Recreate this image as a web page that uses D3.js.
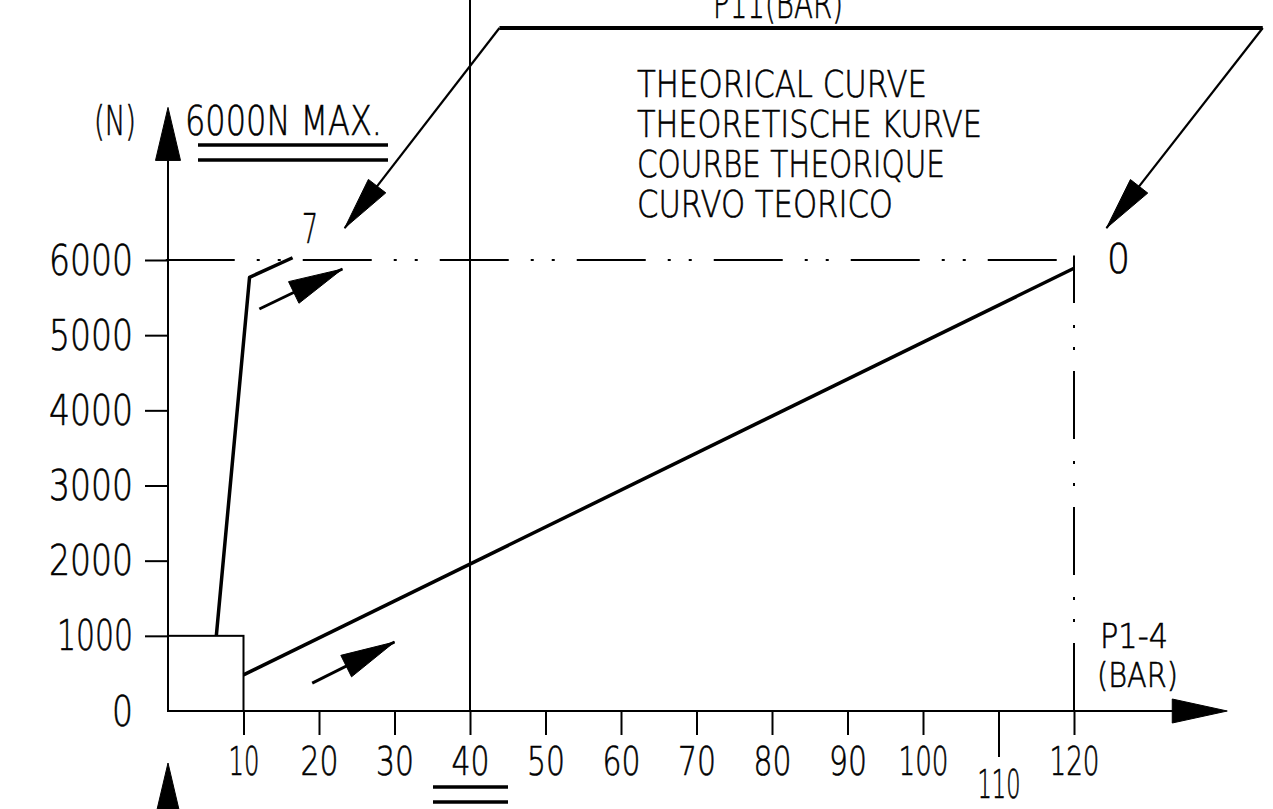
<!DOCTYPE html>
<html>
<head>
<meta charset="utf-8">
<script src="https://cdn.jsdelivr.net/npm/d3@7"></script>
<style>
  html, body { margin: 0; padding: 0; background: #fff; }
  svg text { font-family: "DejaVu Sans", "DejaVu Sans Condensed", "Liberation Sans", sans-serif; font-weight: 200; fill: #000; stroke: #000; stroke-width: 0.6px; }
</style>
</head>
<body>
<svg id="chart" width="1273" height="809"></svg>
<script>
// ---------- data ----------
const xTicks = [10, 20, 30, 40, 50, 60, 70, 80, 90, 100, 110, 120];
const yTicks = [0, 1000, 2000, 3000, 4000, 5000, 6000];
const yLabels = ["0", "1000", "2000", "3000", "4000", "5000", "6000"];
// P11 curve (steep) and P1-4 curve (theoretical, linear)
const curveP11 = [[6.4, 1000], [10.8, 5770], [16.5, 6030]];
const curveP14 = [[10, 480], [120, 5890]];
const boxX = [0, 10];
const boxY = [0, 1000];
const maxForce = 6000;        // 6000N MAX line
const refPressure = 40;        // vertical reference at 40 bar
const endPressure = 120;       // vertical dash-dot at 120 bar
const titleLines = ["THEORICAL CURVE", "THEORETISCHE KURVE", "COURBE THEORIQUE", "CURVO TEORICO"];
// annotation arrows (from -> to), in data units
const flowArrows = [[[12.1, 5348], [23.1, 5880]], [[19.1, 372], [30.0, 918]]];
const leaderTop = [[43.9, 9086], [145.0, 9086]];
const leaders = [[[43.9, 9086], [23.4, 6425]], [[145.0, 9086], [124.3, 6425]]];

// ---------- scales ----------
const svg = d3.select("#chart");
const x = d3.scaleLinear().domain([0, 120]).range([168, 1074]);
const y = d3.scaleLinear().domain([0, 6000]).range([711, 260]);
const P = d => [x(d[0]), y(d[1])];

function arrowHead(g, from, to, len, hw) {
  const [x1, y1] = from, [x2, y2] = to;
  const dx = x2 - x1, dy = y2 - y1, L = Math.hypot(dx, dy);
  const ux = dx / L, uy = dy / L;
  const bx = x2 - ux * len, by = y2 - uy * len;
  const pts = [[x2, y2], [bx - uy * hw, by + ux * hw], [bx + uy * hw, by - ux * hw]];
  g.append("polygon").attr("points", pts.map(p => p.join(",")).join(" "))
    .attr("fill", "#000").attr("stroke", "#000").attr("stroke-width", 1).attr("stroke-linejoin", "round");
}

const line = d3.line().x(d => x(d[0])).y(d => y(d[1]));

// ---------- axes ----------
const xAxis = svg.append("g").attr("transform", `translate(0,${y(0)})`)
  .call(d3.axisBottom(x).tickValues(xTicks).tickSize(24).tickFormat(d3.format("d")));
xAxis.select(".domain").remove();
xAxis.selectAll(".tick line").attr("stroke", "#000").attr("stroke-width", 2)
  .attr("y2", d => d === 110 ? 46 : 24);
xAxis.selectAll(".tick text")
  .attr("y", d => d === 110 ? 87 : 64).attr("dy", 0)
  .attr("font-size", 39)
  .attr("textLength", d => String(d).split("").reduce((s, c) => s + (c === "1" ? 12 : 19), 0))
  .attr("lengthAdjust", "spacingAndGlyphs");

const yAxis = svg.append("g").attr("transform", `translate(${x(0)},0)`)
  .call(d3.axisLeft(y).tickValues(yTicks).tickSize(23).tickFormat((d, i) => yLabels[i]));
yAxis.select(".domain").remove();
yAxis.selectAll(".tick line").attr("stroke", "#000").attr("stroke-width", 2)
  .attr("x2", d => d === 0 ? 0 : -23);
yAxis.selectAll(".tick text")
  .attr("x", -35).attr("dy", 14).attr("text-anchor", "end")
  .attr("font-size", 42)
  .attr("textLength", d => String(d).split("").reduce((s, c) => s + (c === "1" ? 13 : 21), 0))
  .attr("lengthAdjust", "spacingAndGlyphs");

// axis lines with arrows
svg.append("line").attr("x1", x(0)).attr("y1", y(0)).attr("x2", x(133.5)).attr("y2", y(0))
  .attr("stroke", "#000").attr("stroke-width", 2);
arrowHead(svg, [x(0), y(0)], [x(140.3), y(0)], 55, 12);
svg.append("line").attr("x1", x(0)).attr("y1", y(0)).attr("x2", x(0)).attr("y2", y(7320))
  .attr("stroke", "#000").attr("stroke-width", 2);
arrowHead(svg, [x(0), y(0)], [x(0), y(8030)], 53, 12.5);
// lower arrow (cut off at the bottom)
arrowHead(svg, [x(0), 900], [x(0), 763], 53, 12.5);

// ---------- reference lines ----------
svg.append("line").attr("x1", x(refPressure)).attr("x2", x(refPressure))
  .attr("y1", 0).attr("y2", y(0)).attr("stroke", "#000").attr("stroke-width", 2);
svg.append("line").attr("x1", x(-0.3)).attr("x2", x(118.1))
  .attr("y1", y(maxForce)).attr("y2", y(maxForce))
  .attr("stroke", "#000").attr("stroke-width", 2)
  .attr("stroke-dasharray", "69 22 3 18 3 22");
svg.append("line").attr("x1", x(endPressure)).attr("x2", x(endPressure))
  .attr("y1", y(0)).attr("y2", y(6060))
  .attr("stroke", "#000").attr("stroke-width", 2)
  .attr("stroke-dasharray", "68 21 3 19 3 22");

// box 0-10 bar / 0-1000 N
svg.append("rect").attr("x", x(boxX[0])).attr("y", y(boxY[1]))
  .attr("width", x(boxX[1]) - x(boxX[0])).attr("height", y(boxY[0]) - y(boxY[1]))
  .attr("fill", "none").attr("stroke", "#000").attr("stroke-width", 2);

// ---------- curves ----------
svg.append("path").datum(curveP11).attr("d", line)
  .attr("fill", "none").attr("stroke", "#000").attr("stroke-width", 3.5).attr("stroke-linejoin", "round");
svg.append("path").datum(curveP14).attr("d", line)
  .attr("fill", "none").attr("stroke", "#000").attr("stroke-width", 3.5);

// flow arrows
flowArrows.forEach(([a, b]) => {
  svg.append("line").attr("x1", x(a[0])).attr("y1", y(a[1])).attr("x2", x(b[0])).attr("y2", y(b[1]))
    .attr("stroke", "#000").attr("stroke-width", 3);
  arrowHead(svg, P(a), P(b), 54, 12);
});

// leader (parallelogram) lines
svg.append("line").attr("x1", x(leaderTop[0][0])).attr("y1", y(leaderTop[0][1]))
  .attr("x2", x(leaderTop[1][0])).attr("y2", y(leaderTop[1][1]))
  .attr("stroke", "#000").attr("stroke-width", 4);
leaders.forEach(([a, b]) => {
  svg.append("line").attr("x1", x(a[0])).attr("y1", y(a[1])).attr("x2", x(b[0])).attr("y2", y(b[1]))
    .attr("stroke", "#000").attr("stroke-width", 2.2);
  arrowHead(svg, P(a), P(b), 53, 11);
});

// ---------- texts ----------
function txt(s, xx, yy, size, len, anchor) {
  const t = svg.append("text").attr("x", xx).attr("y", yy).attr("font-size", size).text(s);
  if (len) t.attr("textLength", len).attr("lengthAdjust", "spacingAndGlyphs");
  if (anchor) t.attr("text-anchor", anchor);
  return t;
}
txt("P11(BAR)", 713, 18, 41, 130);
txt("(N)", 94, 135, 40, 42);
txt("6000N MAX.", 185, 135, 41, 197);
txt("7", 302, 243, 40, 16);
txt("0", 1107, 273, 40, 23);
txt("P1-4", 1100, 648, 33, 68);
txt("(BAR)", 1097, 687, 33, 81);
const tlW = [290, 345, 308, 256];
titleLines.forEach((s, i) => txt(s, 637, 97 + i * 40, 37, tlW[i]));

// double underlines
[[198, 388, 145], [198, 388, 160], [433, 508, 787], [433, 508, 802]].forEach(([a, b, c]) => {
  svg.append("line").attr("x1", a).attr("x2", b).attr("y1", c).attr("y2", c)
    .attr("stroke", "#000").attr("stroke-width", 3.5);
});
</script>
</body>
</html>
